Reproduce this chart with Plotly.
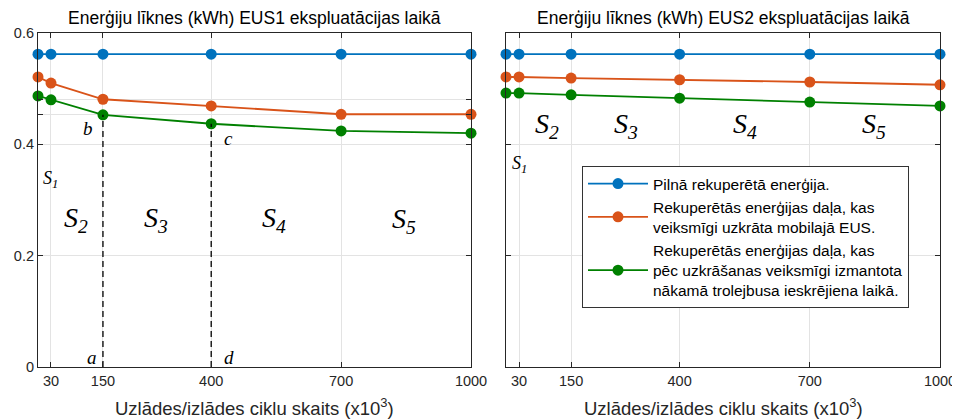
import plotly.graph_objects as go

cycles = [0, 30, 150, 400, 700, 1000]
tick_vals = [30, 150, 400, 700, 1000]
tick_text = ["30", "150", "400", "700", "1000"]

# EUS1
full1 = [0.562, 0.562, 0.562, 0.562, 0.562, 0.562]
stored1 = [0.521, 0.510, 0.481, 0.469, 0.454, 0.454]
used1 = [0.487, 0.480, 0.453, 0.437, 0.424, 0.420]
# EUS2
full2 = [0.562, 0.562, 0.562, 0.562, 0.562, 0.562]
stored2 = [0.521, 0.521, 0.519, 0.516, 0.512, 0.507]
used2 = [0.492, 0.492, 0.489, 0.483, 0.476, 0.469]

names = [
    "Pilnā rekuperētā enerģija.",
    "Rekuperētās enerģijas daļa, kas<br>veiksmīgi uzkrāta mobilajā EUS.",
    "Rekuperētās enerģijas daļa, kas<br>pēc uzkrāšanas veiksmīgi izmantota<br>nākamā trolejbusa ieskrējiena laikā.",
]
colors = ["#0072BD", "#D95319", "#008000"]
titles = ["Enerģiju līknes (kWh) EUS1 ekspluatācijas laikā",
          "Enerģiju līknes (kWh) EUS2 ekspluatācijas laikā"]
xlabel = "Uzlādes/izlādes ciklu skaits (x10<sup>3</sup>)"

# page body has an 8px default margin; layout pixel positions are offset by it
OFF = 8
W, H = 960, 420
def px(x):
    return (x - OFF) / W
def py(y):
    return 1 - (y - OFF) / H

fig = go.Figure()

series = [[full1, stored1, used1], [full2, stored2, used2]]
for p, ser in enumerate(series):
    xa = "x" if p == 0 else "x2"
    ya = "y" if p == 0 else "y2"
    for i, vals in enumerate(ser):
        fig.add_trace(go.Scatter(
            x=cycles, y=vals, mode="lines+markers", name=names[i],
            line=dict(color=colors[i], width=1.8),
            marker=dict(color=colors[i], size=11),
            cliponaxis=False, showlegend=(p == 1),
            xaxis=xa, yaxis=ya))

# dashed verticals in left panel
for idx in [2, 3]:
    fig.add_trace(go.Scatter(
        x=[cycles[idx], cycles[idx]], y=[0, used1[idx]], mode="lines",
        line=dict(color="black", width=1.3, dash="6px,4px"),
        showlegend=False, hoverinfo="skip", xaxis="x", yaxis="y"))

axis_col = "#262626"
grid_col = "#e3e3e3"
sans = "Liberation Sans, Arial"
common_x = dict(range=[0, 1000], tickvals=tick_vals, ticktext=tick_text,
                ticks="inside", ticklen=5, tickcolor=axis_col, automargin=False,
                showline=True, linecolor=axis_col, linewidth=1.2, mirror="ticks",
                showgrid=True, gridcolor=grid_col, gridwidth=1, zeroline=False,
                tickfont=dict(family=sans, size=14.5, color=axis_col))
ydom = [py(367), py(33)]
fig.update_layout(
    template="none",
    width=W, height=H,
    margin=dict(l=0, r=0, t=0, b=0, pad=0),
    plot_bgcolor="white", paper_bgcolor="white",
    xaxis=dict(domain=[px(38), px(471)], anchor="y", **common_x),
    xaxis2=dict(domain=[px(506), px(940)], anchor="y2", **common_x),
    yaxis=dict(domain=ydom, anchor="x", range=[0, 0.6],
               tickvals=[0, 0.2, 0.4, used1[2], stored1[2], 0.6],
               ticktext=["0", "0.2", "0.4", "", "", "0.6"], automargin=False,
               ticks="inside", ticklen=5, tickcolor=axis_col,
               showline=True, linecolor=axis_col, linewidth=1.2, mirror="ticks",
               showgrid=True, gridcolor=grid_col, zeroline=False,
               tickfont=dict(family=sans, size=14.5, color=axis_col)),
    yaxis2=dict(domain=ydom, anchor="x2", range=[0, 0.6],
                tickvals=[0, 0.2, 0.4, 0.6], showticklabels=False, automargin=False,
                ticks="inside", ticklen=5, tickcolor=axis_col,
                showline=True, linecolor=axis_col, linewidth=1.2, mirror="ticks",
                showgrid=True, gridcolor=grid_col, zeroline=False),
    legend=dict(x=px(582), xanchor="left", y=py(166), yanchor="top",
                bgcolor="white", bordercolor="#333333", borderwidth=1,
                font=dict(family=sans, size=15.5, color="black"),
                tracegroupgap=0, itemwidth=60),
    showlegend=True,
)

ann = []
for cx, t in [(px(255), titles[0]), (px(723), titles[1])]:
    ann.append(dict(text=t, x=cx, y=py(18), xref="paper", yref="paper",
                    xanchor="center", yanchor="middle", showarrow=False,
                    font=dict(family=sans, size=17.5, color="black")))
    ann.append(dict(text=xlabel, x=cx, y=py(407), xref="paper", yref="paper",
                    xanchor="center", yanchor="middle", showarrow=False,
                    font=dict(family=sans, size=18.5, color=axis_col)))

serif = "Liberation Serif, Times New Roman"
def lab(text, x, y, xr, yr, size):
    ann.append(dict(text=text, x=x, y=y, xref=xr, yref=yr, showarrow=False,
                    xanchor="center", yanchor="middle",
                    font=dict(family=serif, size=size, color="black")))

# left panel labels
lab("<i>S<sub>1</sub></i>", 28, 0.336, "x", "y", 18)
lab("<i>S<sub>2</sub></i>", 88, 0.265, "x", "y", 28)
lab("<i>S<sub>3</sub></i>", 272, 0.265, "x", "y", 28)
lab("<i>S<sub>4</sub></i>", 545, 0.265, "x", "y", 28)
lab("<i>S<sub>5</sub></i>", 845, 0.263, "x", "y", 28)
lab("<i>a</i>", 125, 0.017, "x", "y", 19)
lab("<i>b</i>", 116, 0.428, "x", "y", 19)
lab("<i>c</i>", 440, 0.411, "x", "y", 19)
lab("<i>d</i>", 440, 0.017, "x", "y", 19)
# right panel labels
lab("<i>S<sub>1</sub></i>", 32, 0.363, "x2", "y2", 18)
lab("<i>S<sub>2</sub></i>", 94, 0.434, "x2", "y2", 28)
lab("<i>S<sub>3</sub></i>", 276, 0.434, "x2", "y2", 28)
lab("<i>S<sub>4</sub></i>", 550, 0.434, "x2", "y2", 28)
lab("<i>S<sub>5</sub></i>", 848, 0.434, "x2", "y2", 28)

fig.update_layout(annotations=ann)
fig.write_html("out.html")
